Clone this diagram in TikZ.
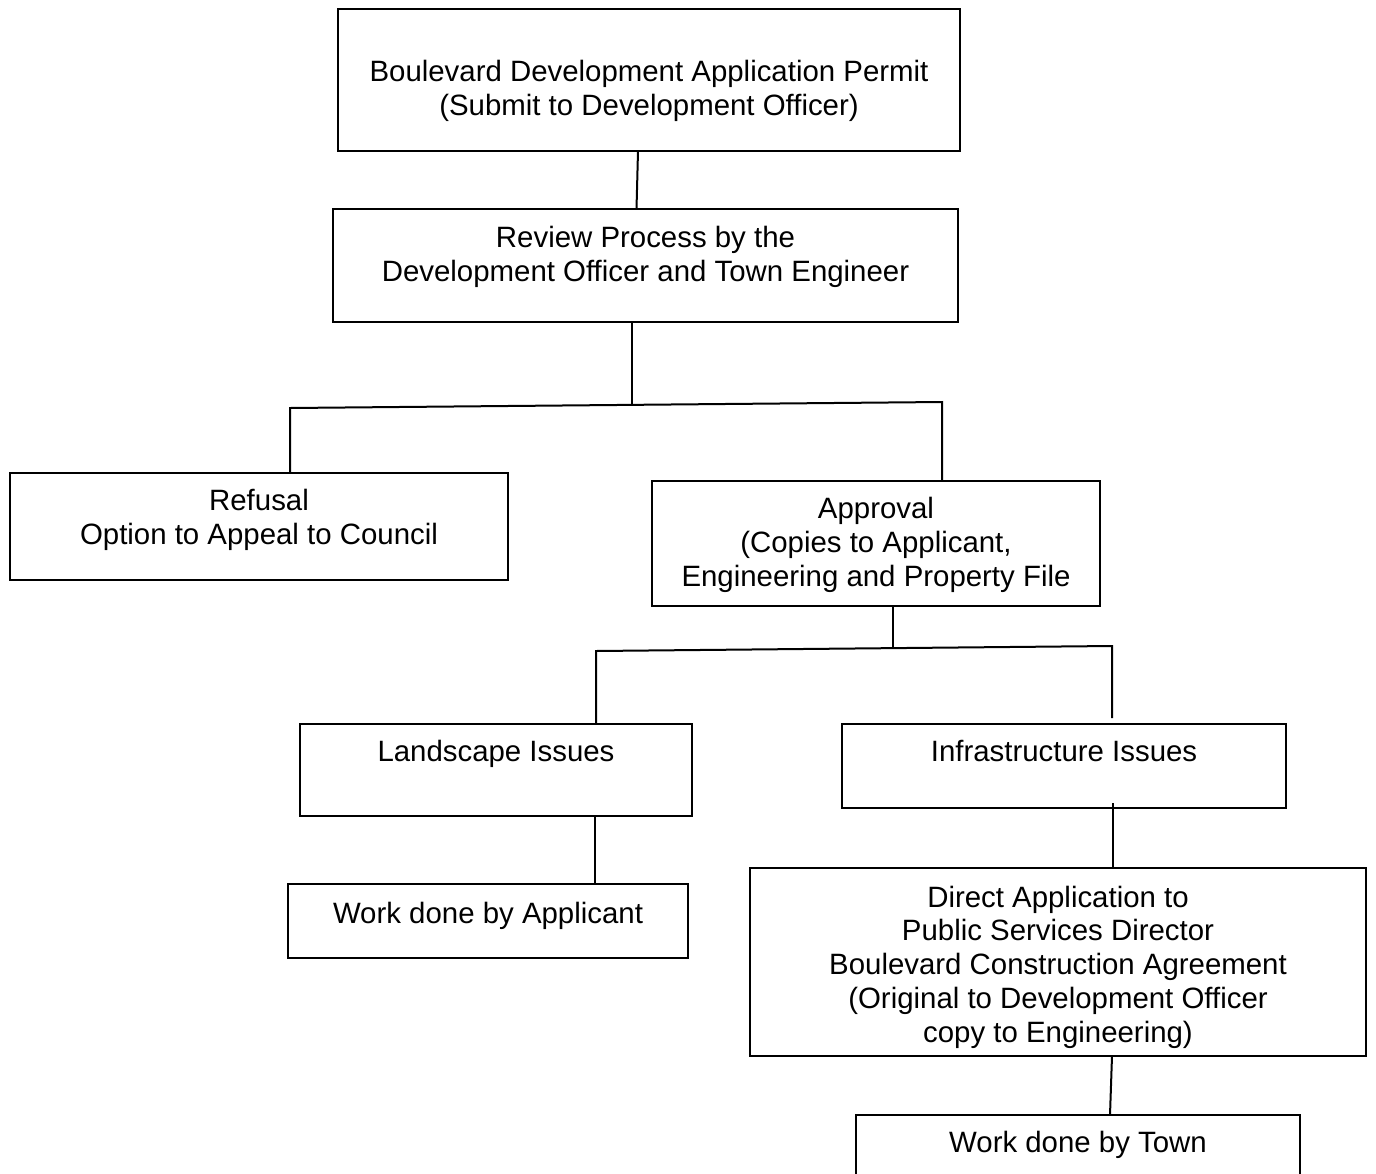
\documentclass[tikz,border=0pt]{standalone}
\usepackage{fontspec}
\setmainfont{Liberation Sans}
\usetikzlibrary{calc}

\begin{document}
\begin{tikzpicture}[x=0.5pt,y=-0.5pt,line width=1pt,
 every node/.style={font=\fontsize{14.7}{16.9}\selectfont,align=center,inner sep=0pt,outer sep=0pt},
 box/.style={draw,line width=1.1pt,rectangle}]
\useasboundingbox (0,0) rectangle (1376,1173);
% boxes
\node[box,minimum width=311pt,minimum height=71pt](permit)at(649,80){};
\node[box,minimum width=312.5pt,minimum height=56.5pt](review)at(645.5,265.5){};
\node[box,minimum width=249pt,minimum height=53.5pt](refusal)at(259,526.5){};
\node[box,minimum width=224pt,minimum height=62.5pt](approval)at(876,543.5){};
\node[box,minimum width=196pt,minimum height=46pt](landscape)at(496,770){};
\node[box,minimum width=222pt,minimum height=42pt](infra)at(1064,766){};
\node[box,minimum width=200pt,minimum height=37pt](applicant)at(488,921){};
\node[box,minimum width=308pt,minimum height=94pt](direct)at(1058,962){};
\node[box,minimum width=222pt,minimum height=37pt](town)at(1078,1152){};
% texts
\node(permit-t)at(649,90.5){Boulevard Development Application Permit\\(Submit to Development Officer)};
\node(review-t)at(645.5,256.5){Review Process by the\\Development Officer and Town Engineer};
\node(refusal-t)at(259,519.5){Refusal\\Option to Appeal to Council};
\node(approval-t)at(876,545){Approval\\(Copies to Applicant,\\Engineering and Property File};
\node(landscape-t)at(496,753.5){Landscape Issues};
\node(infra-t)at(1064,751){Infrastructure Issues};
\node(applicant-t)at(488,915.5){Work done by Applicant};
\node(direct-t)at(1058,967){Direct Application to\\Public Services Director\\Boulevard Construction Agreement\\(Original to Development Officer\\copy to Engineering)};
\node(town-t)at(1078,1144.5){Work done by Town};
% connectors
\coordinate(split1)at(632,405);\coordinate(bl)at(290,408);\coordinate(br)at(942,402);
\coordinate(split2)at(893,648);\coordinate(bl2)at(596,651);\coordinate(br2)at(1112,646);
\draw($(permit.south)+(-11,0)$)--($(review.north)+(-9,0)$);
\draw(review.south -| split1)--(split1);
\draw(refusal.north -| bl)--(bl)--(br)--(approval.north -| br);
\draw(approval.south -| split2)--(split2);
\draw(landscape.north -| bl2)--(bl2)--(br2)--($(infra.north -| br2)+(0,-6)$);
\draw($(landscape.south)+(99,0)$)--($(applicant.north)+(107,0)$);
\draw($(infra.south)+(49,-5)$)--($(direct.north)+(55,0)$);
\draw($(direct.south)+(54,0)$)--($(town.north)+(32,0)$);
\end{tikzpicture}
\end{document}
